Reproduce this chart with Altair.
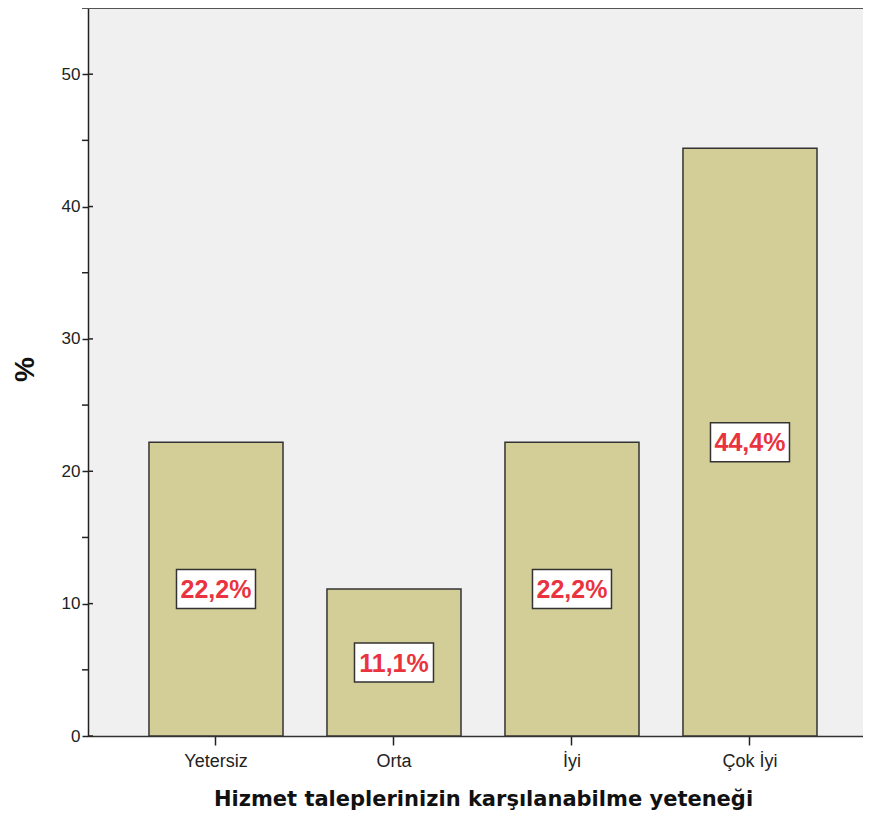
import altair as alt
import pandas as pd

categories = ["Yetersiz", "Orta", "İyi", "Çok İyi"]
percents = [22.2, 11.1, 22.2, 44.4]
major_ticks = [0, 10, 20, 30, 40, 50]
minor_ticks = [5, 15, 25, 35, 45, 55]

df = pd.DataFrame({"cat": categories, "pct": percents})
df["mid"] = df["pct"] / 2
df["label"] = df["pct"].map(lambda v: f"{v:.1f}".replace(".", ",") + "%")
major_df = pd.DataFrame({"t": major_ticks})
minor_df = pd.DataFrame({"t": minor_ticks})

W, H = 775, 728
ydom = [0, 55.0]

xenc = alt.X(
    "cat:N",
    sort=categories,
    scale=alt.Scale(paddingInner=0.247, paddingOuter=0.3005, align=0.57),
    axis=alt.Axis(
        title="Hizmet taleplerinizin karşılanabilme yeteneği",
        titleFont="DejaVu Sans",
        titleFontSize=21,
        titleFontWeight="bold",
        titleColor="#111111",
        titleBaseline="middle",
        titleX=395,
        titleY=63,
        labelFont="Liberation Sans",
        labelFontSize=18,
        labelColor="#222222",
        labelAngle=0,
        labelPadding=7,
        tickSize=9,
        tickColor="#222222",
        tickWidth=1.5,
        domainColor="#333333",
        domainWidth=1.5,
        grid=False,
    ),
)

yscale = alt.Scale(domain=ydom, nice=False, zero=True)

bars = alt.Chart(df).mark_bar(
    color="#D3CE98", stroke="#333333", strokeWidth=1.5
).encode(
    x=xenc,
    y=alt.Y(
        "pct:Q",
        scale=yscale,
        axis=alt.Axis(
            title="%",
            titleFont="Liberation Sans",
            titleFontSize=28,
            titleFontWeight="bold",
            titleColor="#111111",
            titleAngle=270,
            titleBaseline="middle",
            titleAlign="center",
            titleX=-63,
            titleY=361,
            values=major_ticks,
            labelFont="Liberation Sans",
            labelFontSize=17,
            labelColor="#222222",
            labelPadding=2,
            tickSize=6,
            tickColor="#222222",
            tickWidth=1.5,
            domainColor="#222222",
            domainWidth=1.5,
            grid=False,
        ),
    ),
)

top_border = alt.Chart(major_df).mark_rule(color="#555555", strokeWidth=1.5).encode(
    y=alt.value(0),
    x=alt.value(0),
    x2=alt.value(W),
)

major_in = alt.Chart(major_df).mark_rule(color="#222222", strokeWidth=1.5).encode(
    y=alt.Y("t:Q", scale=yscale),
    x=alt.value(0),
    x2=alt.value(5),
)

minor_out = alt.Chart(minor_df).mark_rule(color="#222222", strokeWidth=1.5).encode(
    y=alt.Y("t:Q", scale=yscale),
    x=alt.value(-6),
    x2=alt.value(0),
)

boxes = alt.Chart(df).mark_point(
    shape="M-1,-0.494H1V0.494H-1Z",
    size=6241,
    filled=True,
    fill="white",
    stroke="#333333",
    strokeWidth=1.5,
    opacity=1,
).encode(
    x=alt.X("cat:N", sort=categories),
    y=alt.Y("mid:Q", scale=yscale),
)

texts = alt.Chart(df).mark_text(
    font="Liberation Sans",
    fontSize=25,
    fontWeight="bold",
    color="#E9343F",
    baseline="middle",
    dy=1,
).encode(
    x=alt.X("cat:N", sort=categories),
    y=alt.Y("mid:Q", scale=yscale),
    text="label:N",
)

chart = alt.layer(bars, top_border, minor_out, major_in, boxes, texts).properties(
    width=W,
    height=H,
    autosize=alt.AutoSizeParams(type="none"),
    padding={"left": 80, "top": 0, "right": 0, "bottom": 77},
    background="white",
).configure_view(
    fill="#F0F0F0",
    strokeOpacity=0,
)

chart.save("out.html", embed_options={"renderer": "svg", "actions": False})
